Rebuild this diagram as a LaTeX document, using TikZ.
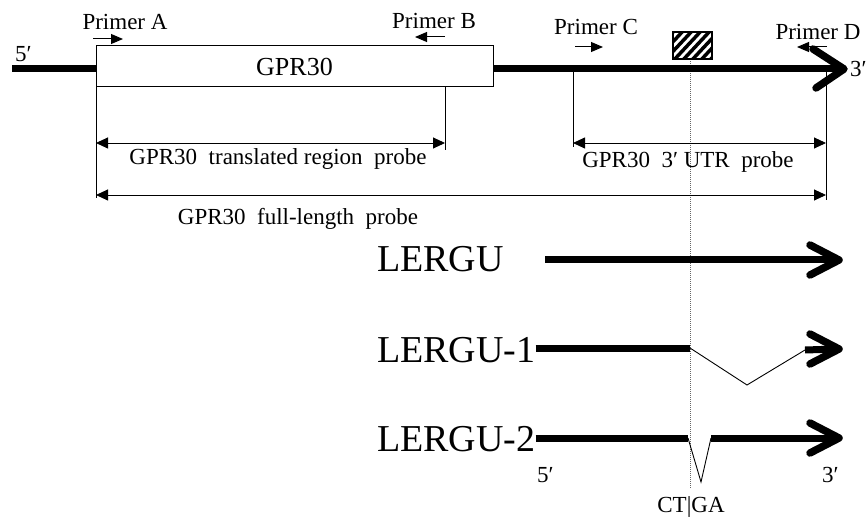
\documentclass[tikz,border=0pt]{standalone}
\usepackage{fontspec}
\setmainfont{Liberation Serif}
\usetikzlibrary{arrows.meta}
\begin{document}
\begin{tikzpicture}[x=1pt,y=-1pt,
  gene/.style={line width=7pt},
  chevron/.style={line width=7.5pt, line cap=round, line join=round},
  fine/.style={line width=0.9pt},
  dimline/.style={line width=0.9pt, {Triangle[length=12pt,width=11pt]}-{Triangle[length=12pt,width=11pt]}},
  primer/.style={line width=1pt, -{Triangle[length=12pt,width=10pt]}},
  lbl/.style={font=\fontsize{23}{25}\selectfont, inner sep=0pt},
  bigname/.style={font=\fontsize{38}{40}\selectfont, inner sep=0pt},
  guide/.style={line width=0.6pt, black!60, dash pattern=on 1pt off 1pt},
]
\useasboundingbox (0,0) rectangle (866,518);

% splice-site guide line
\coordinate (gtop) at (690,59);
\coordinate (gbot) at (690,488);
\draw[guide] (gtop) -- (gbot);

% full transcript with coding box
\coordinate (s5) at (12,69);
\coordinate (tip0) at (841,69);
\node[draw, line width=1pt, fill=white, minimum width=397pt, minimum height=41pt, inner sep=0pt,
      font=\fontsize{26}{28}\selectfont] (cds) at (294.5,66.5) {GPR30};
\draw[gene] (s5) -- (s5 -| cds.west);
\draw[gene] (s5 -| cds.east) -- (tip0);
\draw[chevron] (813,49) -- (844,69) -- (816,88);
\node[lbl, anchor=base west] (five0) at (15,62) {5′};
\node[lbl, anchor=base west] (three0) at (850,77) {3′};

% hatched element
\node[draw, line width=1.2pt, minimum width=39pt, minimum height=27pt, inner sep=0pt] (hatch) at (692.5,45.5) {};
\begin{scope}
  \clip (hatch.south west) rectangle (hatch.north east);
  \foreach \k in {-36,-27,...,45}
    \draw[line width=3.5pt] (673+\k,61) -- (673+\k+29,30);
\end{scope}

% primers
\node[lbl, anchor=base] (pA) at (125,30) {Primer A};
\node[lbl, anchor=base] (pB) at (434,29) {Primer B};
\node[lbl, anchor=base] (pC) at (596,35) {Primer C};
\node[lbl, anchor=base] (pD) at (818,40) {Primer D};
\coordinate (a1) at (93,39);  \coordinate (a2) at (123,39);
\coordinate (b1) at (445,37); \coordinate (b2) at (415,37);
\coordinate (c1) at (575,47); \coordinate (c2) at (603,47);
\coordinate (d1) at (827,47); \coordinate (d2) at (797,47);
\draw[primer] (a1) -- (a2);
\draw[primer] (b1) -- (b2);
\draw[primer] (c1) -- (c2);
\draw[primer] (d1) -- (d2);

% probe extents
\coordinate (t1top) at (96,87);   \coordinate (t1bot) at (96,198);
\coordinate (t2top) at (445,87);  \coordinate (t2bot) at (445,150);
\coordinate (t3top) at (573,72);  \coordinate (t3bot) at (573,147);
\coordinate (t4top) at (826,72);  \coordinate (t4bot) at (826,200);
\draw[fine] (t1top) -- (t1bot);
\draw[fine] (t2top) -- (t2bot);
\draw[fine] (t3top) -- (t3bot);
\draw[fine] (t4top) -- (t4bot);
\draw[dimline] (96,143) -- (445,143);
\draw[dimline] (573,143) -- (826,143);
\draw[dimline] (96,195) -- (826,195);
\node[lbl, anchor=base] (trl) at (278,165) {GPR30\ \ translated region\ \ probe};
\node[lbl, anchor=base] (utr) at (688,168) {GPR30\ \ 3′\ UTR\ \ probe};
\node[lbl, anchor=base] (full) at (298,225) {GPR30\ \ full-length\ \ probe};

% transcript variants
\node[bigname, anchor=base west] (L0) at (377,272) {LERGU};
\node[bigname, anchor=base west] (L1) at (377,362) {LERGU-1};
\node[bigname, anchor=base west] (L2) at (377,451) {LERGU-2};

% LERGU
\draw[gene] (545,260) -- (837,260);
\draw[chevron] (810,245) -- (839,260) -- (810,275);

% LERGU-1
\coordinate (e1a) at (690,348);
\coordinate (e1b) at (747,385);
\coordinate (e1c) at (805,350);
\draw[gene] (L1.east |- 0,348) -- (e1a);
\draw[line width=0.9pt] (e1a) -- (e1b) -- (e1c);
\draw[gene] (e1c) -- (837,349);
\draw[chevron] (810,334) -- (839,349) -- (810,364);

% LERGU-2
\coordinate (e2a) at (688,438);
\coordinate (e2b) at (701,482);
\coordinate (e2c) at (711,438);
\draw[gene] (L2.east |- 0,438) -- (e2a);
\draw[line width=0.9pt] (e2a) -- (e2b) -- (e2c);
\draw[gene] (e2c) -- (837,438);
\draw[chevron] (810,423) -- (839,438) -- (810,453);

\node[lbl, anchor=base west] (five2) at (537,482) {5′};
\node[lbl, anchor=base west] (three2) at (822,482) {3′};
\node[lbl, anchor=base] (junc) at (691,512) {CT|GA};
\end{tikzpicture}
\end{document}
